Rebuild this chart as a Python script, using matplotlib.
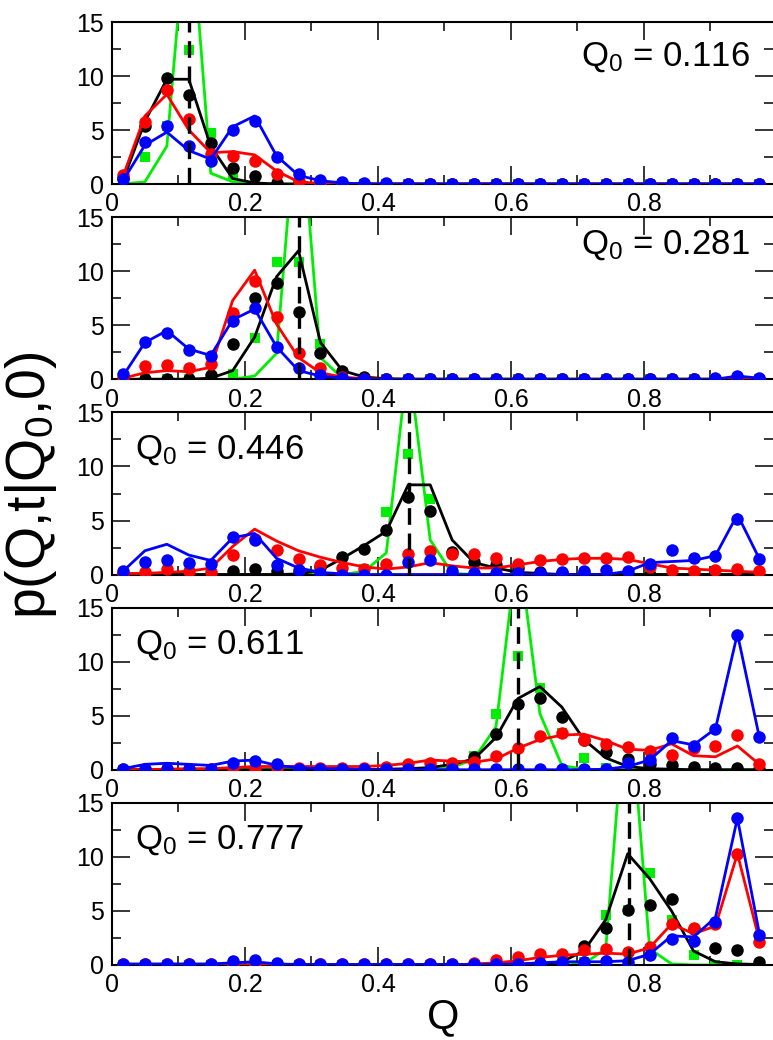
import matplotlib
matplotlib.use('Agg')
import matplotlib.pyplot as plt
from matplotlib.ticker import MultipleLocator, FuncFormatter

plt.rcParams['font.family'] = ['Liberation Sans', 'DejaVu Sans']
plt.rcParams['mathtext.fontset'] = 'custom'
plt.rcParams['mathtext.rm'] = 'Liberation Sans'
plt.rcParams['mathtext.it'] = 'Liberation Sans'

# ====================== data ======================
q = [0.0165, 0.0495, 0.0825, 0.1155, 0.1485, 0.1815, 0.2145, 0.2475, 0.2805, 0.3135,
     0.3465, 0.3795, 0.4125, 0.4455, 0.4785, 0.5115, 0.5445, 0.5775, 0.6105, 0.6435,
     0.6765, 0.7095, 0.7425, 0.7755, 0.8085, 0.8415, 0.8745, 0.9075, 0.9405, 0.9735]
q0_values = [0.116, 0.281, 0.446, 0.611, 0.777]

# panel 1 : Q0 = 0.116
p1_green_line = [0, 0.2, 3.5, 27, 1.0, 0.2] + [0] * 24
p1_green_pts = [0, 2.5, 5.4, 12.4, 4.7, 0.8] + [0] * 24
p1_black_line = [0.3, 5.8, 9.7, 9.7, 3.5, 0.5, 0.1] + [0] * 23
p1_black_pts = [0.6, 5.4, 9.8, 8.2, 3.8, 1.5, 0.7, 0.1, 0.05] + [0] * 21
p1_red_line = [0.7, 6.3, 8.3, 5.0, 2.9, 3.0, 2.7, 1.2, 0.2, 0.05] + [0] * 20
p1_red_pts = [0.8, 5.7, 8.7, 6.0, 2.8, 2.6, 2.1, 0.9, 0.3, 0.1] + [0] * 20
p1_blue_line = [0.3, 3.6, 4.8, 3.1, 2.3, 5.3, 6.3, 2.6, 0.8, 0.3, 0.1] + [0] * 19
p1_blue_pts = [0.5, 3.9, 5.4, 3.5, 2.1, 5.0, 5.8, 2.5, 0.9, 0.4, 0.2, 0.1, 0.05] + [0] * 17

# panel 2 : Q0 = 0.281
p2_green_line = [0, 0, 0, 0, 0, 0, 0.3, 2.4, 27, 2.0, 0.1] + [0] * 19
p2_green_pts = [0, 0, 0, 0, 0, 0.5, 3.8, 10.9, 10.9, 3.3, 0.2] + [0] * 19
p2_black_line = [0, 0, 0, 0, 0.1, 0.8, 3.9, 9.5, 11.9, 3.4, 0.8, 0.2, 0.05] + [0] * 17
p2_black_pts = [0, 0, 0.05, 0.05, 0.4, 3.3, 7.5, 8.9, 6.2, 2.4, 0.8, 0.2] + [0] * 18
p2_red_line = [0.1, 0.6, 0.8, 0.7, 1.1, 7.3, 10.1, 5.1, 2.0, 0.6, 0.2, 0.05] + [0] * 18
p2_red_pts = [0.1, 1.2, 1.3, 1.0, 1.4, 6.1, 9.1, 5.75, 2.4, 1.0, 0.2, 0.05] + [0] * 18
p2_blue_line = [0.3, 3.4, 4.5, 2.8, 2.2, 5.5, 6.5, 3.0, 0.8, 0.3, 0.1] + [0] * 17 + [0.3, 0.1]
p2_blue_pts = [0.5, 3.45, 4.3, 2.7, 2.15, 5.4, 6.6, 3.0, 1.0, 0.4, 0.1, 0.05] + [0] * 15 + [0.1, 0.3, 0.1]

# panel 3 : Q0 = 0.446
p3_green_line = [0] * 11 + [0.3, 2.0, 20, 3.2, 0.1] + [0] * 14
p3_green_pts = [0] * 11 + [0.5, 5.8, 11.2, 7.0, 0.2] + [0] * 14
p3_black_line = [0] * 8 + [0.05, 0.4, 1.5, 2.7, 4.0, 8.3, 8.3, 3.2, 1.1, 0.6, 0.2, 0.1] + [0] * 10
p3_black_pts = [0, 0, 0, 0, 0, 0.3, 0.5, 0.3, 0.1, 0.7, 1.6, 2.4, 4.1, 7.2, 5.9, 2.1,
                1.2, 0.9, 0.6, 0.2, 0.1, 0.1] + [0] * 8
p3_red_line = [0.1, 0.1, 0.2, 0.3, 0.6, 2.6, 4.2, 3.1, 2.2, 1.6, 1.1, 0.7, 0.5, 0.7, 1.1,
               0.8, 0.6, 0.6, 0.9, 1.2, 1.4, 1.5, 1.5, 1.4, 1.0, 0.6, 0.5, 0.4, 0.3, 0.2]
p3_red_pts = [0.1, 0.2, 0.5, 0.3, 0.2, 1.8, 3.3, 2.3, 1.4, 0.9, 0.6, 0.5, 1.0, 1.9, 2.2,
              1.9, 1.9, 1.5, 1.0, 1.3, 1.4, 1.5, 1.5, 1.6, 0.7, 0.4, 0.3, 0.4, 0.5, 0.3]
p3_blue_line = [0.3, 2.2, 2.8, 1.8, 1.3, 3.4, 3.8, 1.5, 0.6, 0.2, 0.05] + [0] * 12 + \
               [0.3, 1.1, 1.2, 1.3, 1.75, 5.55, 1.45]
p3_blue_pts = [0.3, 1.15, 1.3, 1.1, 1.0, 3.5, 3.2, 0.9, 0.4, 0.1, 0, 0, 0, 1.2, 1.3,
               0.3, 0.1, 0.1, 0.1, 0.1, 0.2, 0.3, 0.4, 0.3, 1.0, 2.3, 1.5, 1.7, 5.1, 1.4]

# panel 4 : Q0 = 0.611
p4_green_line = [0] * 15 + [0.2, 1.0, 4.0, 21, 5.2, 0.4, 0.05] + [0] * 8
p4_green_pts = [0] * 15 + [0.1, 1.3, 5.2, 10.5, 7.6, 3.4, 1.1, 0.2] + [0] * 7
p4_black_line = [0] * 12 + [0.05, 0.1, 0.2, 0.5, 1.0, 3.0, 6.6, 7.7, 5.8, 2.8, 1.1, 0.3, 0.1, 0.05] + [0] * 4
p4_black_pts = [0] * 14 + [0.05, 0.1, 1.2, 3.3, 6.1, 6.6, 4.9, 2.8, 1.6, 1.0, 0.5, 0.4, 0.3, 0.2, 0.2, 0.1]
p4_red_line = [0, 0, 0.05, 0.1, 0.1, 0.2, 0.3, 0.3, 0.3, 0.3, 0.3, 0.3, 0.4, 0.6, 0.9,
               0.8, 0.7, 1.0, 2.0, 2.8, 3.2, 3.3, 2.7, 1.9, 1.8, 2.4, 1.3, 1.2, 2.2, 0.5]
p4_red_pts = [0.05, 0.05, 0.1, 0.1, 0.1, 0.2, 0.2, 0.2, 0.2, 0.2, 0.2, 0.2, 0.3, 0.5, 0.6,
              0.6, 0.7, 1.3, 2.0, 3.1, 3.4, 2.75, 2.4, 2.1, 1.7, 1.4, 2.0, 2.2, 3.2, 0.5]
p4_blue_line = [0.1, 0.5, 0.6, 0.5, 0.4, 0.8, 0.9, 0.4, 0.2, 0.1, 0.1] + [0] * 11 + \
               [0.05, 0.3, 0.9, 2.7, 2.3, 3.8, 12.6, 3.0]
p4_blue_pts = [0.1, 0.1, 0.1, 0.1, 0.1, 0.6, 0.8, 0.5, 0.1, 0.05, 0.05] + [0.05] * 11 + \
              [0.1, 0.6, 0.9, 2.9, 2.2, 3.8, 12.5, 3.0]

# panel 5 : Q0 = 0.777
p5_green_line = [0] * 21 + [0.1, 1.5, 27, 1.5, 0.1, 0, 0, 0, 0]
p5_green_pts = [0] * 21 + [0.3, 4.6, 5.1, 8.5, 4.2, 0.9, 0, 0, 0]
p5_black_line = [0] * 19 + [0.1, 0.3, 1.3, 4.2, 10.3, 8.0, 5.0, 1.3, 0.3, 0.1, 0.05]
p5_black_pts = [0] * 20 + [0.1, 1.8, 3.4, 5.1, 5.6, 6.1, 3.3, 1.6, 1.4, 0.3]
p5_red_line = [0] * 16 + [0.1, 0.2, 0.4, 0.7, 0.9, 1.0, 1.1, 1.0, 1.6, 3.8, 2.9, 3.6, 10.3, 2.3]
p5_red_pts = [0.05] * 16 + [0.2, 0.5, 0.75, 1.0, 1.05, 1.4, 1.5, 1.2, 1.7, 3.8, 3.4, 3.8, 10.3, 2.1]
p5_blue_line = [0.1, 0.1, 0.1, 0.1, 0.1, 0.2, 0.3, 0.1] + [0.05] * 10 + \
               [0.1, 0.2, 0.3, 0.3, 0.3, 0.4, 1.0, 2.7, 2.6, 4.4, 13.6, 2.9]
p5_blue_pts = [0.1, 0.1, 0.1, 0.1, 0.1, 0.4, 0.5, 0.2] + [0.1] * 10 + \
              [0.1, 0.2, 0.3, 0.3, 0.4, 0.3, 0.9, 2.4, 2.2, 4.0, 13.6, 2.8]

panels = [
    (p1_green_line, p1_green_pts, p1_black_line, p1_black_pts, p1_red_line, p1_red_pts, p1_blue_line, p1_blue_pts),
    (p2_green_line, p2_green_pts, p2_black_line, p2_black_pts, p2_red_line, p2_red_pts, p2_blue_line, p2_blue_pts),
    (p3_green_line, p3_green_pts, p3_black_line, p3_black_pts, p3_red_line, p3_red_pts, p3_blue_line, p3_blue_pts),
    (p4_green_line, p4_green_pts, p4_black_line, p4_black_pts, p4_red_line, p4_red_pts, p4_blue_line, p4_blue_pts),
    (p5_green_line, p5_green_pts, p5_black_line, p5_black_pts, p5_red_line, p5_red_pts, p5_blue_line, p5_blue_pts),
]

# label position per panel: (x, y, ha) in axes fraction
label_pos = [(0.965, 0.78, 'right'), (0.965, 0.83, 'right'),
             (0.035, 0.77, 'left'), (0.035, 0.77, 'left'), (0.035, 0.77, 'left')]

# ====================== figure ======================
W, H = 773, 1040
fig = plt.figure(figsize=(W / 100, H / 100), dpi=100)

GREEN, BLACK, RED, BLUE = '#00ee00', 'black', '#ff0000', '#0000ff'
LW, MS, MS_SQ = 2.0, 9, 7.5

def fmt_x(v, pos):
    return '0' if abs(v) < 1e-9 else f'{v:.1f}'

for i, series in enumerate(panels):
    gl, gp, kl, kp, rl, rp, bl, bp = series
    top = 22 + 195.25 * i
    ax = fig.add_axes([112 / W, 1 - (top + 162) / H, (W - 112) / W, 162 / H])

    ax.plot(q, gl, color=GREEN, lw=LW, zorder=2)
    ax.plot(q, gp, 's', color=GREEN, ms=MS_SQ, mew=0, zorder=2.1)
    ax.plot(q, kl, color=BLACK, lw=LW, zorder=3)
    ax.plot(q, kp, 'o', color=BLACK, ms=MS, mew=0, zorder=3.1)
    ax.plot(q, rl, color=RED, lw=LW, zorder=4)
    ax.plot(q, rp, 'o', color=RED, ms=MS, mew=0, zorder=4.1)
    ax.plot(q, bl, color=BLUE, lw=LW, zorder=5)
    ax.plot(q, bp, 'o', color=BLUE, ms=MS, mew=0, zorder=5.1)
    ax.axvline(q0_values[i], color='black', lw=2.4, linestyle=(0, (5, 2.6)), zorder=6)

    ax.set_xlim(0, 0.994)
    ax.set_ylim(0, 15)
    ax.xaxis.set_major_locator(MultipleLocator(0.2))
    ax.xaxis.set_minor_locator(MultipleLocator(0.1))
    ax.yaxis.set_major_locator(MultipleLocator(5))
    ax.yaxis.set_minor_locator(MultipleLocator(2.5))
    ax.xaxis.set_major_formatter(FuncFormatter(fmt_x))
    ax.tick_params(which='both', direction='in', top=True, right=True, width=1.1,
                   labelsize=18, pad=6)
    ax.tick_params(which='major', length=13)
    ax.tick_params(which='minor', length=6.5)
    for s in ax.spines.values():
        s.set_linewidth(1.5)
    ax.spines['right'].set_visible(False)

    x, y, ha = label_pos[i]
    ax.text(x, y, r'$\mathrm{Q}_0$ = %.3f' % q0_values[i], transform=ax.transAxes,
            ha=ha, va='center', fontsize=25, zorder=10)

fig.text(0.040, 0.534, r'p(Q,t|Q$_0$,0)', rotation=90, ha='center', va='center', fontsize=40)
fig.text(443 / W, 0.022, 'Q', ha='center', va='center', fontsize=30)

fig.savefig('out.png', dpi=100)
